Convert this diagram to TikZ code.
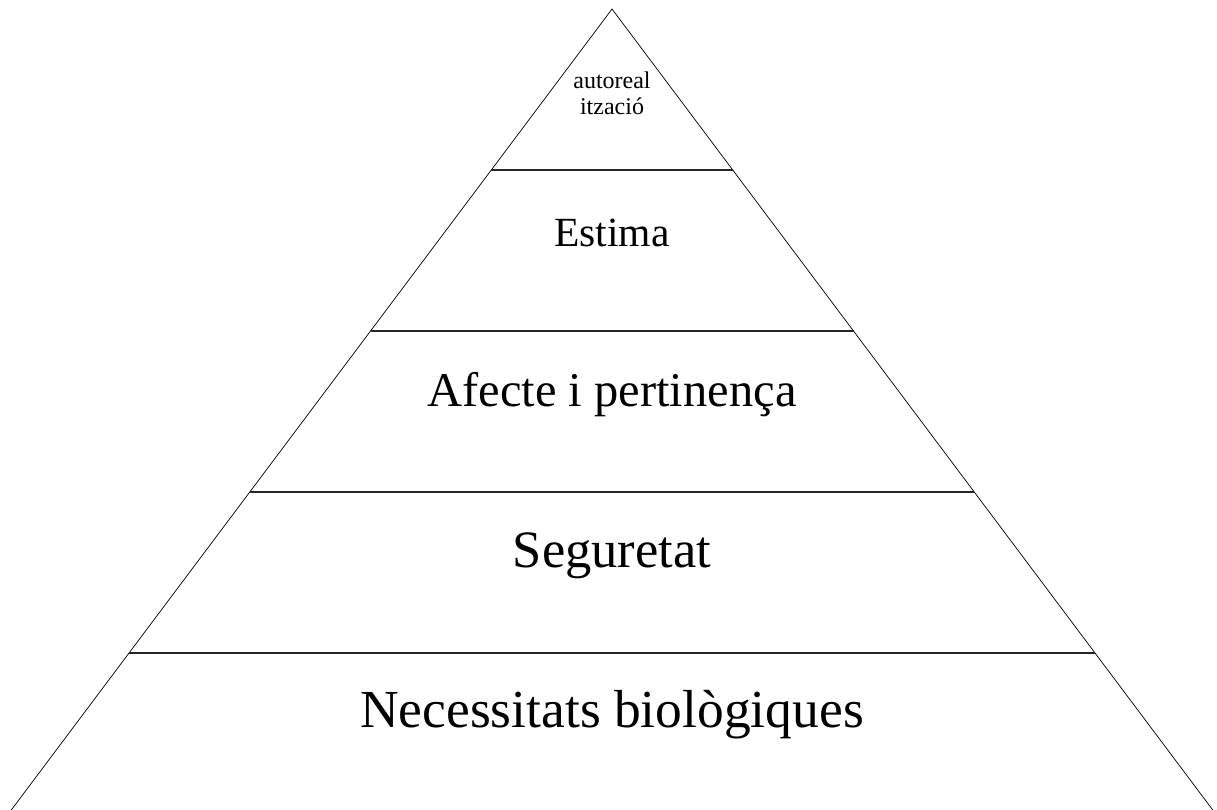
\documentclass[tikz,border=0pt]{standalone}
\usepackage{fontspec}
\setmainfont{Liberation Serif}
\usepackage{tikz}
\usetikzlibrary{calc}

\begin{document}
\begin{tikzpicture}[x=1pt,
		y=-1pt,
		side/.style={draw=black, line width=0.7pt},
		level/.style={draw=black!85, line width=1.4pt},
		label/.style={anchor=base, inner sep=0pt, align=center}]

		\useasboundingbox (0,0) rectangle (1217,809);

		% pyramid outline
		\coordinate (apex) at (612,9);
		\coordinate (bl) at (8.25,814);
		\coordinate (br) at (1215.75,814);
		\draw[side] (bl) -- (apex) -- (br);

		% levels
		\foreach \t in {0.2,0.4,0.6,0.8}
			\draw[level] ($(apex)!\t!(bl)$) -- ($(apex)!\t!(br)$);

		\node (top) [label, font=\fontsize{24}{26}\selectfont] at (612,114) {autoreal\\ització};
		\node (estima) [label, font=\fontsize{41.5}{48}\selectfont] at (612,246) {Estima};
		\node (afecte) [label, font=\fontsize{48.5}{56}\selectfont] at (612,406) {Afecte i pertinença};
		\node (seguretat) [label, font=\fontsize{52.5}{60}\selectfont] at (612,567) {Seguretat};
		\node (biologiques) [label, font=\fontsize{53.5}{62}\selectfont] at (612,727) {Necessitats biològiques};
	\end{tikzpicture}
\end{document}
